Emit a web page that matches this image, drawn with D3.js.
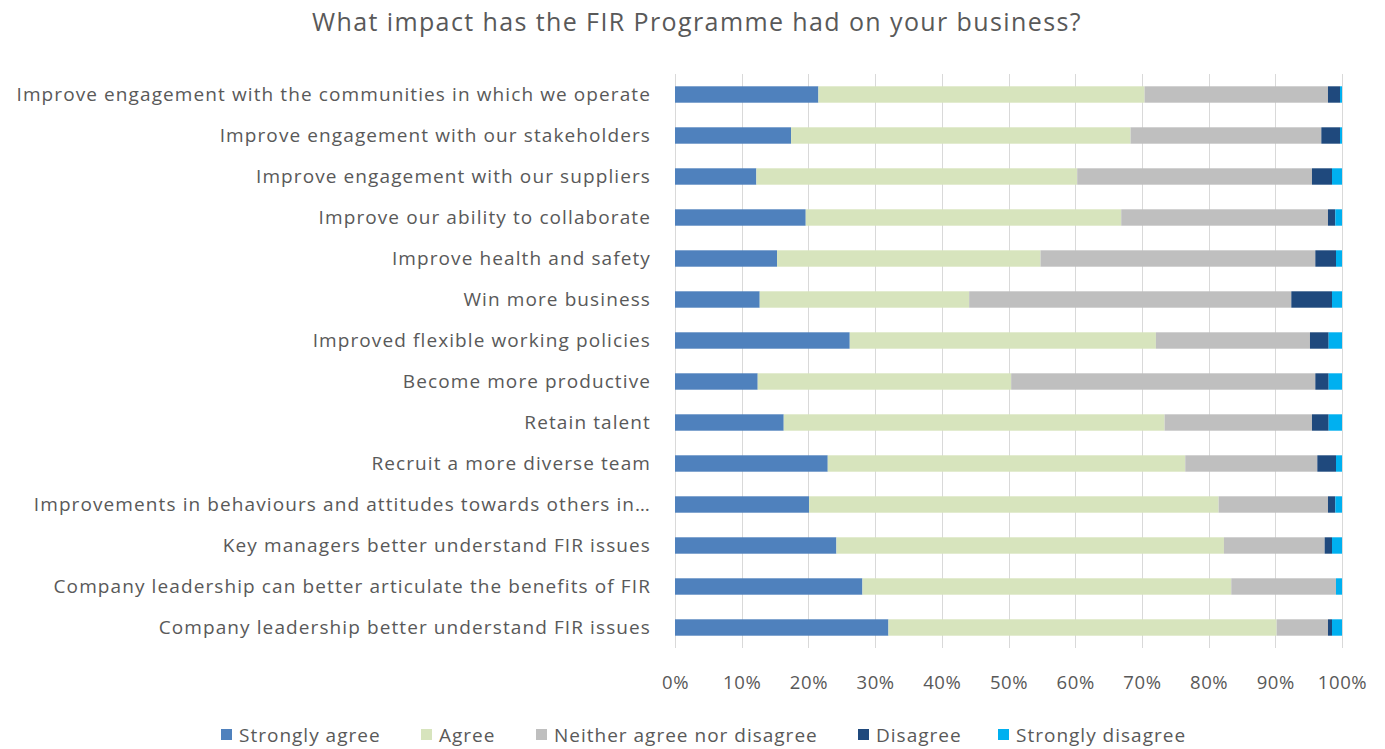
<!DOCTYPE html>
<html>
<head>
<meta charset="utf-8">
<script src="https://cdn.jsdelivr.net/npm/d3@7"></script>
<style>
  html, body { margin: 0; padding: 0; background: #fff; }
  svg { display: block; font-family: "Open Sans", "Noto Sans", sans-serif; }
</style>
</head>
<body>
<svg id="chart" width="1385" height="749"></svg>
<script>
// Survey statements, top to bottom
const categories = [
  "Improve engagement with the communities in which we operate",
  "Improve engagement with our stakeholders",
  "Improve engagement with our suppliers",
  "Improve our ability to collaborate",
  "Improve health and safety",
  "Win more business",
  "Improved flexible working policies",
  "Become more productive",
  "Retain talent",
  "Recruit a more diverse team",
  "Improvements in behaviours and attitudes towards others in\u2026",
  "Key managers better understand FIR issues",
  "Company leadership can better articulate the benefits of FIR",
  "Company leadership better understand FIR issues"
];

const seriesNames = ["Strongly agree", "Agree", "Neither agree nor disagree", "Disagree", "Strongly disagree"];

// Share of responses (%) per statement
const stronglyAgree    = [21.5, 17.4, 12.2, 19.6, 15.3, 12.7, 26.2, 12.4, 16.3, 22.9, 20.1, 24.2, 28.1, 32.0];
const agree            = [48.9, 50.9, 48.1, 47.3, 39.5, 31.4, 45.9, 38.0, 57.1, 53.6, 61.4, 58.1, 55.3, 58.2];
const neither          = [27.5, 28.6, 35.2, 31.0, 41.2, 48.3, 23.1, 45.6, 22.1, 19.8, 16.4, 15.1, 15.7,  7.7];
const disagree         = [ 1.8,  2.8,  3.0,  1.1,  3.1,  6.1,  2.8,  2.0,  2.5,  2.8,  1.1,  1.1,  0.0,  0.6];
const stronglyDisagree = [ 0.3,  0.3,  1.5,  1.0,  0.9,  1.5,  2.0,  2.0,  2.0,  0.9,  1.0,  1.5,  0.9,  1.5];

const tickValues = [0, 10, 20, 30, 40, 50, 60, 70, 80, 90, 100];
const colors = ["#4f81bd", "#d7e4bd", "#bfbfbf", "#1f497d", "#00b0f0"];

const rows = categories.map((c, i) => ({
  category: c,
  "Strongly agree": stronglyAgree[i],
  "Agree": agree[i],
  "Neither agree nor disagree": neither[i],
  "Disagree": disagree[i],
  "Strongly disagree": stronglyDisagree[i]
}));

// Normalise each row to 100%
const stack = d3.stack().keys(seriesNames).offset(d3.stackOffsetExpand);
const layers = stack(rows);

const svg = d3.select("#chart");
const margin = { left: 675, right: 43, top: 74, bottom: 101 };
const W = 1385, H = 749;

const x = d3.scaleLinear().domain([0, 1]).range([margin.left, W - margin.right]);
const y = d3.scaleBand().domain(categories).range([margin.top, H - margin.bottom]).paddingInner(0.6).paddingOuter(0.3);

const textColor = "#595959";

// Title
svg.append("text")
  .attr("x", 697).attr("y", 31)
  .attr("text-anchor", "middle")
  .attr("fill", textColor)
  .attr("font-size", 25)
  .attr("letter-spacing", 1.4)
  .text("What impact has the FIR Programme had on your business?");

// Vertical gridlines
svg.append("g").selectAll("line")
  .data(tickValues)
  .join("line")
  .attr("x1", d => Math.round(x(d / 100)) + 0.5)
  .attr("x2", d => Math.round(x(d / 100)) + 0.5)
  .attr("y1", margin.top)
  .attr("y2", H - margin.bottom)
  .attr("stroke", "#d9d9d9")
  .attr("stroke-width", 1);

// Stacked bars
svg.append("g").selectAll("g")
  .data(layers)
  .join("g")
  .attr("fill", (d, i) => colors[i])
  .selectAll("rect")
  .data(d => d)
  .join("rect")
  .attr("x", d => x(d[0]))
  .attr("width", d => Math.max(0, x(d[1]) - x(d[0])))
  .attr("y", d => y(d.data.category))
  .attr("height", y.bandwidth());

// Category axis (labels only)
const yAxis = svg.append("g")
  .attr("transform", `translate(${margin.left},0)`)
  .call(d3.axisLeft(y).tickSize(0).tickPadding(24));
yAxis.select(".domain").remove();
yAxis.selectAll("text")
  .attr("fill", textColor)
  .attr("font-size", 19)
  .attr("letter-spacing", 1.1)
  .attr("font-family", "'Open Sans', sans-serif");

// Percentage axis
const xAxis = svg.append("g")
  .attr("transform", `translate(0,${H - margin.bottom})`)
  .call(d3.axisBottom(x).tickValues(tickValues.map(v => v / 100)).tickFormat(d3.format(".0%")).tickSize(0).tickPadding(28));
xAxis.select(".domain").remove();
xAxis.selectAll("text")
  .attr("fill", textColor)
  .attr("font-size", 18.5)
  .attr("letter-spacing", 0.6)
  .attr("font-family", "'Open Sans', sans-serif");

// Legend
const legendX = [221, 421, 536, 858, 998];
const legend = svg.append("g").selectAll("g")
  .data(seriesNames)
  .join("g")
  .attr("transform", (d, i) => `translate(${legendX[i]},735)`);
legend.append("rect")
  .attr("x", 0).attr("y", -6)
  .attr("width", 11).attr("height", 11)
  .attr("fill", (d, i) => colors[i]);
legend.append("text")
  .attr("x", 18).attr("y", 0)
  .attr("dy", "0.35em")
  .attr("fill", textColor)
  .attr("font-size", 19)
  .attr("letter-spacing", 1.0)
  .text(d => d);
</script>
</body>
</html>
